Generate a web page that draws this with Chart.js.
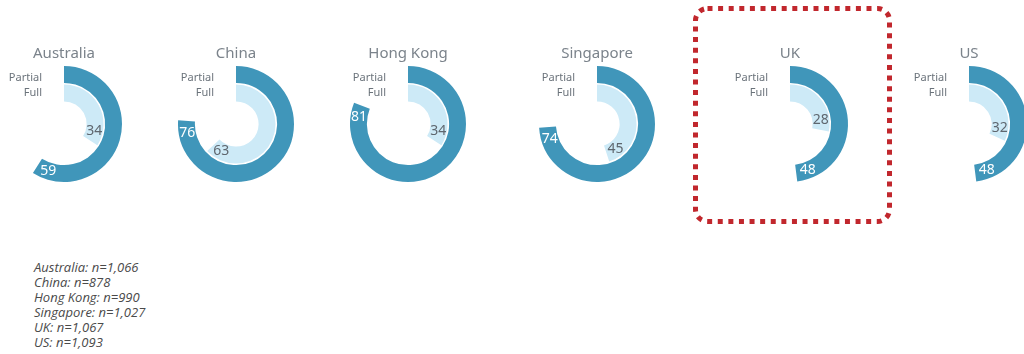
<!DOCTYPE html>
<html>
<head>
<meta charset="utf-8">
<script src="https://cdn.jsdelivr.net/npm/chart.js@4/dist/chart.umd.min.js"></script>
<style>
  html, body { margin: 0; padding: 0; background: #fff; }
  body { width: 1024px; height: 354px; overflow: hidden; position: relative; }
  canvas.ring { position: absolute; }
  #box { position: absolute; left: 688px; top: 0px; }
  #notes {
    position: absolute; left: 34px; top: 260px;
    font: italic 13px "Open Sans", sans-serif; line-height: 15px; color: #4a4a4a;
  }
</style>
</head>
<body>
<canvas id="box" width="210" height="230"></canvas>
<div id="notes"></div>
<script>
const countries = ['Australia', 'China', 'Hong Kong', 'Singapore', 'UK', 'US'];
const partial = [59, 76, 81, 74, 48, 48];
const full = [34, 63, 34, 45, 28, 32];
const sampleSizes = ['1,066', '878', '990', '1,027', '1,067', '1,093'];
const ringLabels = ['Partial', 'Full'];

const centersX = [64, 236, 408, 597, 790, 969];
const centerY = 124;
const W = 170, H = 160;

const darkBlue = '#4096ba';
const lightBlue = '#cdeaf7';

const labelPlugin = {
  id: 'ringLabels',
  afterDatasetsDraw(chart) {
    const ctx = chart.ctx;
    const outer = chart.getDatasetMeta(0).data[0];
    const inner = chart.getDatasetMeta(2).data[0];
    const cx = outer.x, cy = outer.y;
    ctx.save();
    ctx.textBaseline = 'middle';

    ctx.textAlign = 'center';
    ctx.fillStyle = '#7b838b';
    ctx.font = '15px "Noto Sans", sans-serif';
    ctx.fillText(chart.options.plugins.ringLabels.title, cx, cy - 70);

    ctx.textAlign = 'right';
    ctx.fillStyle = '#6b737b';
    ctx.font = '11px "Noto Sans", sans-serif';
    ctx.fillText(ringLabels[0], cx - 22, cy - 46);
    ctx.fillText(ringLabels[1], cx - 22, cy - 31);

    ctx.textAlign = 'center';
    ctx.font = '14px "Noto Sans", sans-serif';
    [[outer, '#ffffff', 12, chart.data.datasets[0].data[0]],
     [inner, '#5f676f', 10, chart.data.datasets[2].data[0]]].forEach(([arc, color, off, val]) => {
      const r = (arc.innerRadius + arc.outerRadius) / 2;
      const a = arc.endAngle - off / r;
      ctx.fillStyle = color;
      ctx.fillText(String(val), cx + r * Math.cos(a), cy + r * Math.sin(a));
    });
    ctx.restore();
  }
};

countries.forEach((name, i) => {
  const canvas = document.createElement('canvas');
  canvas.className = 'ring';
  canvas.width = W;
  canvas.height = H;
  canvas.style.left = (centersX[i] - W / 2) + 'px';
  canvas.style.top = (centerY - H / 2) + 'px';
  document.body.appendChild(canvas);

  new Chart(canvas, {
    type: 'doughnut',
    data: {
      labels: ['value', 'rest'],
      datasets: [
        { data: [partial[i], 100 - partial[i]], backgroundColor: [darkBlue, 'rgba(0,0,0,0)'], weight: 17 },
        { data: [100], backgroundColor: ['rgba(0,0,0,0)'], weight: 1.6 },
        { data: [full[i], 100 - full[i]], backgroundColor: [lightBlue, 'rgba(0,0,0,0)'], weight: 17 }
      ]
    },
    options: {
      responsive: false,
      animation: false,
      devicePixelRatio: 1,
      radius: 58,
      cutout: '39%',
      borderWidth: 0,
      layout: { padding: 0 },
      events: [],
      plugins: {
        legend: { display: false },
        tooltip: { enabled: false },
        ringLabels: { title: name }
      }
    },
    plugins: [labelPlugin]
  });
});

document.getElementById('notes').innerHTML =
  countries.map((c, i) => c + ': n=' + sampleSizes[i]).join('<br>');

// dotted highlight box around UK
const bx = document.getElementById('box').getContext('2d');
bx.strokeStyle = '#c1272d';
bx.lineWidth = 5;
bx.setLineDash([5, 5.6]);
bx.beginPath();
bx.roundRect(7.5, 8.5, 194, 213, 12);
bx.stroke();
</script>
</body>
</html>
